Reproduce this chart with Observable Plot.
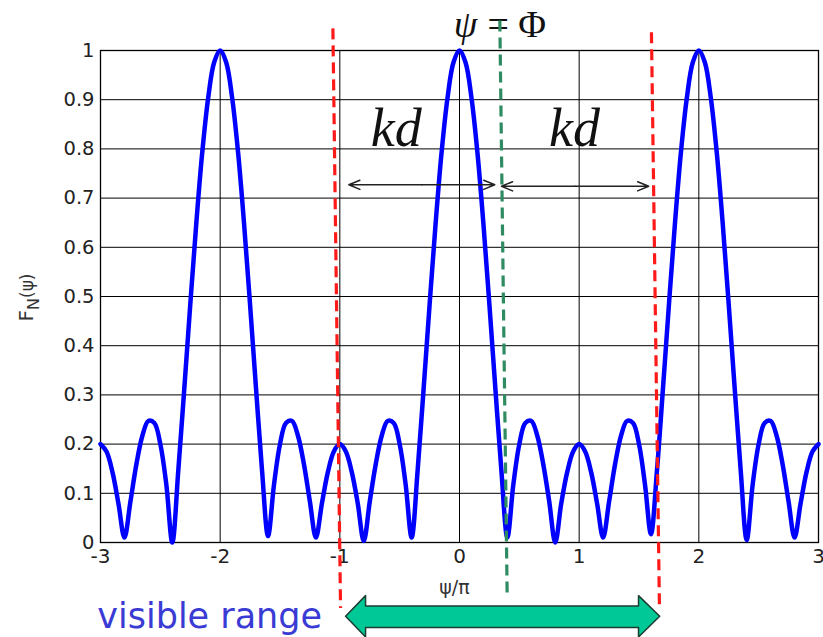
<!DOCTYPE html>
<html><head><meta charset="utf-8">
<script src="https://cdn.jsdelivr.net/npm/d3@7"></script>
<script src="https://cdn.jsdelivr.net/npm/@observablehq/plot@0.6"></script>
<style>body{margin:0;background:#fff;overflow:hidden}</style>
</head><body><div id="chart"></div>
<script>
// ψ/π sample positions and the array factor values
const psi = [
-3.00,-2.95,-2.90,-2.85,-2.80,-2.75,-2.70,-2.65,-2.60,-2.55,-2.50,-2.45,-2.40,-2.35,-2.30,-2.25,-2.20,-2.15,-2.10,-2.05,
-2.00,-1.95,-1.90,-1.85,-1.80,-1.75,-1.70,-1.65,-1.60,-1.55,-1.50,-1.45,-1.40,-1.35,-1.30,-1.25,-1.20,-1.15,-1.10,-1.05,
-1.00,-0.95,-0.90,-0.85,-0.80,-0.75,-0.70,-0.65,-0.60,-0.55,-0.50,-0.45,-0.40,-0.35,-0.30,-0.25,-0.20,-0.15,-0.10,-0.05,
0.00,0.05,0.10,0.15,0.20,0.25,0.30,0.35,0.40,0.45,0.50,0.55,0.60,0.65,0.70,0.75,0.80,0.85,0.90,0.95,
1.00,1.05,1.10,1.15,1.20,1.25,1.30,1.35,1.40,1.45,1.50,1.55,1.60,1.65,1.70,1.75,1.80,1.85,1.90,1.95,
2.00,2.05,2.10,2.15,2.20,2.25,2.30,2.35,2.40,2.45,2.50,2.55,2.60,2.65,2.70,2.75,2.80,2.85,2.90,2.95,3.00];
const FN = [
0.200,0.185,0.143,0.079,0.010,0.083,0.159,0.217,0.247,0.243,0.200,0.118,0.000,0.146,0.312,0.483,0.647,0.792,0.904,0.976,
1.000,0.976,0.904,0.792,0.647,0.483,0.312,0.146,0.013,0.118,0.200,0.243,0.247,0.217,0.159,0.083,0.010,0.079,0.143,0.185,
0.200,0.185,0.143,0.079,0.003,0.083,0.159,0.217,0.247,0.243,0.200,0.118,0.010,0.146,0.312,0.483,0.647,0.792,0.904,0.976,
1.000,0.976,0.904,0.792,0.647,0.483,0.312,0.146,0.010,0.118,0.200,0.243,0.247,0.217,0.159,0.083,0.000,0.079,0.143,0.185,
0.200,0.185,0.143,0.079,0.010,0.083,0.159,0.217,0.247,0.243,0.200,0.118,0.017,0.146,0.312,0.483,0.647,0.792,0.904,0.976,
1.000,0.976,0.904,0.792,0.647,0.483,0.312,0.146,0.005,0.118,0.200,0.243,0.247,0.217,0.159,0.083,0.010,0.079,0.143,0.185,0.200];

const xTicks = [-3, -2, -1, 0, 1, 2, 3];
const xTickLabels = ["-3", "-2", "-1", "0", "1", "2", "3"];
const yTicks = [0, 0.1, 0.2, 0.3, 0.4, 0.5, 0.6, 0.7, 0.8, 0.9, 1];
const yTickLabels = ["0", "0.1", "0.2", "0.3", "0.4", "0.5", "0.6", "0.7", "0.8", "0.9", "1"];

// annotations (data coordinates)
const redLines = [
  {x1: -1.058, y1: 1.045, x2: -0.994, y2: -0.133},
  {x1: 1.604, y1: 1.037, x2: 1.671, y2: -0.133}
];
const greenLines = [{x1: 0.337, y1: 1.061, x2: 0.398, y2: -0.102}];
const kdSpans = [
  {from: -0.925, to: 0.295, y: 0.727},
  {from: 0.351, to: 1.581, y: 0.724}
];
const kdLabels = [{x: -0.528, y: 0.842, t: "kd"}, {x: 0.961, y: 0.842, t: "kd"}];
const titlePos = [{x: 0.2, y: 1.052}];
const visibleLabel = [{x: -3.027, y: -0.150, t: "visible range"}];
const xLabel = [{x: -0.042, y: -0.092, t: "ψ/π"}];
const yLabel = [{x: -3.62, y: 0.498, t: "FN(ψ)"}];
const visibleArrow = [
  {x: -0.952, y: -0.150}, {x: -0.785, y: -0.108}, {x: -0.785, y: -0.129},
  {x: 1.496, y: -0.129}, {x: 1.496, y: -0.108}, {x: 1.673, y: -0.150},
  {x: 1.496, y: -0.192}, {x: 1.496, y: -0.173}, {x: -0.785, y: -0.173},
  {x: -0.785, y: -0.192}, {x: -0.952, y: -0.150}
];

const curve = psi.map((p, i) => ({psi: p, F: FN[i]}));
const kdArrows = kdSpans.flatMap(s => {
  const m = (s.from + s.to) / 2;
  return [{x1: m, x2: s.from, y: s.y}, {x1: m, x2: s.to, y: s.y}];
});

const chart = Plot.plot({
  width: 823, height: 637,
  marginLeft: 100, marginRight: 5, marginTop: 50, marginBottom: 95,
  x: {domain: [-3, 3]},
  y: {domain: [0, 1]},
  style: {fontFamily: "DejaVu Sans", background: "white", overflow: "visible"},
  marks: [
    Plot.gridX(xTicks, {stroke: "#000", strokeOpacity: 1, strokeWidth: 1}),
    Plot.gridY(yTicks, {stroke: "#000", strokeOpacity: 1, strokeWidth: 1}),
    Plot.frame({stroke: "#000", strokeWidth: 1.3}),
    Plot.axisY(yTicks, {tickSize: 0, tickPadding: 6, fontSize: 19.5, fill: "#222", label: null,
      tickFormat: d => yTickLabels[yTicks.indexOf(d)]}),
    Plot.axisX(xTicks, {tickSize: 0, tickPadding: 6, fontSize: 20, fill: "#222", label: null,
      tickFormat: d => xTickLabels[xTicks.indexOf(d)]}),
    Plot.line(curve, {x: "psi", y: "F", stroke: "#0000ff", strokeWidth: 4.5, curve: "catmull-rom"}),
    Plot.text(titlePos, {x: "x", y: "y", text: () => "ψ", textAnchor: "end", dx: -6,
      fontSize: 38, fontFamily: "Liberation Serif", fontStyle: "italic", fill: "#111"}),
    Plot.text(titlePos, {x: "x", y: "y", text: () => "= Φ", textAnchor: "start", dx: 4,
      fontSize: 38, fontFamily: "Liberation Serif", fill: "#111"}),
    Plot.text(kdLabels, {x: "x", y: "y", text: "t", fontSize: 54, fontFamily: "Liberation Serif",
      fontStyle: "italic", fill: "#111"}),
    Plot.link(redLines, {x1: "x1", y1: "y1", x2: "x2", y2: "y2", stroke: "#ff1a1a", strokeWidth: 3.2,
      strokeDasharray: "11,6"}),
    Plot.link(greenLines, {x1: "x1", y1: "y1", x2: "x2", y2: "y2", stroke: "#2e8b62", strokeWidth: 3.2,
      strokeDasharray: "11,6"}),
    Plot.arrow(kdArrows, {x1: "x1", y1: "y", x2: "x2", y2: "y", stroke: "#222", strokeWidth: 1.5,
      headLength: 12, headAngle: 45, bend: 0}),
    Plot.line(visibleArrow, {x: "x", y: "y", fill: "#00c896", stroke: "#1b3d30", strokeWidth: 1.5, curve: "linear"}),
    Plot.text(visibleLabel, {x: "x", y: "y", text: "t", textAnchor: "start", fontSize: 35,
      fontFamily: "DejaVu Sans", fill: "#3a3ad4"}),
    Plot.text(xLabel, {x: "x", y: "y", text: "t", fontSize: 19, fill: "#333"}),
    Plot.text(yLabel, {x: "x", y: "y", text: "t", rotate: -90, fontSize: 20, fill: "#333", className: "ylab"})
  ]
});
document.getElementById("chart").appendChild(chart);

// subscript N in the y label
d3.select(chart).selectAll(".ylab text").each(function() {
  const t = d3.select(this);
  t.text(null);
  t.append("tspan").text("F");
  t.append("tspan").attr("font-size", 16).attr("dy", 6).text("N");
  t.append("tspan").attr("font-size", 17).attr("dy", -6).text("(ψ)");
});
</script>
</body></html>
